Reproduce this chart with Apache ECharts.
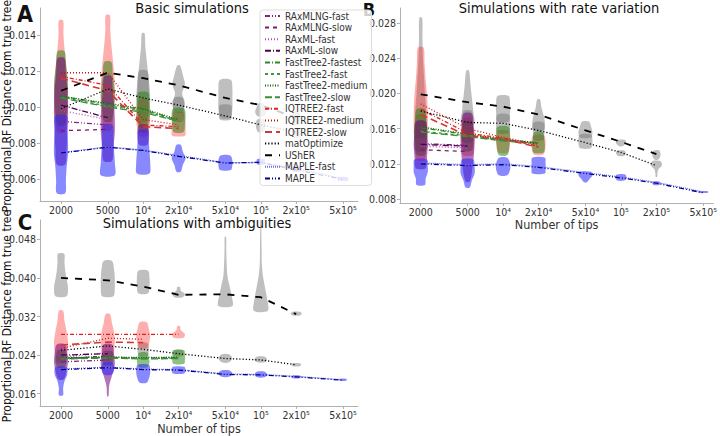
<!DOCTYPE html>
<html><head><meta charset="utf-8">
<script src="https://cdn.jsdelivr.net/npm/echarts@6/dist/echarts.min.js"></script>
<style>html,body{margin:0;padding:0;background:#fff}#c{width:720px;height:436px}</style>
</head><body><div id="c"></div>
<script>
// ---------- data ----------
const tips = [2000, 5000, 10000, 20000, 50000, 100000, 200000, 500000];
const tipLabels = ['2000', '5000', '10⁴', '2x10⁴', '5x10⁴', '10⁵', '2x10⁵', '5x10⁵'];
const methods = ['RAxMLNG-fast','RAxMLNG-slow','RAxML-fast','RAxML-slow','FastTree2-fastest','FastTree2-fast','FastTree2-medium','FastTree2-slow','IQTREE2-fast','IQTREE2-medium','IQTREE2-slow','matOptimize','UShER','MAPLE-fast','MAPLE'];
const panelTitles = ['Basic simulations', 'Simulations with rate variation', 'Simulations with ambiguities'];
const panelLetters = ['A', 'B', 'C'];
const yTicksA = [0.006, 0.008, 0.010, 0.012, 0.014];
const yTicksB = [0.008, 0.012, 0.016, 0.020, 0.024, 0.028];
const yTicksC = [0.016, 0.024, 0.032, 0.040, 0.048];
const yAxisName = 'Proportional RF Distance from true tree';
const xAxisName = 'Number of tips';

// median lines, one row per method (methods order), one value per tip count
const mediansA = [
  [0.0092, 0.0090, null, null, null, null, null, null],
  [0.00868, 0.00875, null, null, null, null, null, null],
  [0.0098, 0.0093, null, null, null, null, null, null],
  [0.0101, 0.0094, null, null, null, null, null, null],
  [0.0106, 0.01015, 0.00985, 0.00925, null, null, null, null],
  [0.01055, 0.01005, 0.0098, 0.0092, null, null, null, null],
  [0.0106, 0.0102, 0.0099, 0.0093, null, null, null, null],
  [0.0105, 0.0100, 0.0097, 0.0092, null, null, null, null],
  [0.0117, 0.0112, 0.0090, 0.0089, null, null, null, null],
  [0.0119, 0.0119, 0.0093, 0.0090, null, null, null, null],
  [0.0116, 0.0109, 0.0089, 0.0088, null, null, null, null],
  [0.0099, 0.0110, 0.0105, 0.0101, 0.0095, 0.0090, 0.0086, null],
  [0.0109, 0.0119, 0.0116, 0.0112, 0.0105, 0.0101, 0.0094, null],
  [0.00745, 0.00778, 0.0076, 0.0073, 0.0069, 0.0069, 0.0066, 0.0060],
  [0.00744, 0.00776, 0.00758, 0.00725, 0.00688, 0.00692, 0.0065, 0.00598]
];
const mediansB = [
  [0.0143, 0.0141, null, null, null, null, null, null],
  [0.0136, 0.0134, null, null, null, null, null, null],
  [0.0140, 0.0138, null, null, null, null, null, null],
  [0.0142, 0.0140, null, null, null, null, null, null],
  [0.0161, 0.0153, 0.0147, 0.0144, null, null, null, null],
  [0.0157, 0.0152, 0.0146, 0.0143, null, null, null, null],
  [0.0162, 0.0154, 0.0148, 0.0144, null, null, null, null],
  [0.0156, 0.0151, 0.0146, 0.0143, null, null, null, null],
  [0.0182, 0.0155, 0.0149, 0.0140, null, null, null, null],
  [0.0188, 0.0160, 0.0150, 0.0142, null, null, null, null],
  [0.0176, 0.0152, 0.0148, 0.0139, null, null, null, null],
  [0.0180, 0.0167, 0.0166, 0.0158, 0.0144, 0.0133, 0.0118, null],
  [0.0199, 0.0190, 0.0185, 0.0176, 0.0158, 0.0145, 0.0131, null],
  [0.0121, 0.0119, 0.0120, 0.0117, 0.0110, 0.0105, 0.0099, 0.0088],
  [0.0120, 0.0118, 0.0119, 0.0116, 0.0109, 0.0104, 0.0098, 0.0087]
];
const mediansC = [
  [0.0226, 0.0230, null, null, null, null, null, null],
  [0.0232, 0.0238, null, null, null, null, null, null],
  [0.0236, 0.0245, null, null, null, null, null, null],
  [0.0240, 0.0243, null, null, null, null, null, null],
  [0.0234, 0.0236, 0.0234, 0.0235, null, null, null, null],
  [0.0233, 0.0235, 0.0233, 0.0234, null, null, null, null],
  [0.0235, 0.0236, 0.0235, 0.0236, null, null, null, null],
  [0.0232, 0.0234, 0.0232, 0.0233, null, null, null, null],
  [0.0283, 0.0283, 0.0283, 0.0283, null, null, null, null],
  [0.0254, 0.0275, 0.0273, null, null, null, null, null],
  [0.0261, 0.0267, 0.0266, null, null, null, null, null],
  [0.0250, 0.0259, 0.0252, 0.0243, 0.0233, 0.0230, 0.0220, null],
  [0.0400, 0.0395, 0.0382, 0.0365, 0.0366, 0.0360, 0.0325, null],
  [0.0211, 0.0215, 0.0211, 0.0210, 0.0201, 0.0200, 0.0196, 0.0189],
  [0.0210, 0.0214, 0.0210, 0.0209, 0.0200, 0.0199, 0.0195, 0.0188]
];

// violins: [group, tip index, min, max, relative density from min to max]
const violinsA = [
  ['usher', 2, 0.0089, 0.0141, [0.5,0.8,1,0.9,0.7,0.5,0.3,0.2]],
  ['usher', 3, 0.0097, 0.0123, [0.5,0.9,0.5,0.9,0.6,0.2]],
  ['usher', 4, 0.0094, 0.0115, [0.7,1,1,1,0.8]],
  ['usher', 5, 0.0095, 0.0102, [0.5,0.8,0.6,0.3]],
  ['usher', 6, 0.0090, 0.0097, [0.4,0.6,0.4]],
  ['matopt', 2, 0.0092, 0.0120, [0.5,0.8,0.8,0.6]],
  ['matopt', 3, 0.0092, 0.0105, [0.6,0.8,0.6]],
  ['matopt', 4, 0.0093, 0.0101, [0.8,0.9,0.8]],
  ['matopt', 5, 0.0086, 0.0093, [0.4,0.7,0.5]],
  ['matopt', 6, 0.0083, 0.0088, [0.4,0.6,0.4]],
  ['iqtree', 0, 0.0086, 0.0148, [0.5,0.8,1,1,0.9,0.7,0.5,0.35,0.3]],
  ['iqtree', 1, 0.0087, 0.0151, [0.5,0.8,1,1,0.9,0.7,0.5,0.35,0.3]],
  ['iqtree', 2, 0.0084, 0.0104, [0.6,0.9,1,0.8,0.6]],
  ['iqtree', 3, 0.0084, 0.0097, [0.9,1,1,0.9,0.8]],
  ['fasttree', 0, 0.0090, 0.0131, [0.5,0.8,0.9,1,0.9,0.7,0.5]],
  ['fasttree', 1, 0.0092, 0.0125, [0.5,0.8,1,0.9,0.7,0.5]],
  ['fasttree', 2, 0.0086, 0.0108, [0.5,0.8,1,0.9,0.7]],
  ['fasttree', 3, 0.0086, 0.0099, [0.7,0.9,1,0.8]],
  ['raxml', 0, 0.0068, 0.0127, [0.6,0.8,0.9,1,1,0.9,0.7,0.5]],
  ['raxml', 1, 0.0070, 0.0117, [0.6,0.8,1,1,0.9,0.7,0.5]],
  ['raxml', 2, 0.0079, 0.0090, [0.6,0.8,0.6]],
  ['maple', 0, 0.0052, 0.0095, [0.6,0.7,0.8,1,1,0.9,0.8]],
  ['maple', 1, 0.0062, 0.0090, [1,1,0.9,0.8,0.7]],
  ['maple', 2, 0.0063, 0.0087, [0.9,1,0.9,0.8,0.7]],
  ['maple', 3, 0.0064, 0.0079, [0.3,0.6,1,0.6,0.3]],
  ['maple', 4, 0.0065, 0.0073, [0.8,1,1,0.7]],
  ['maple', 5, 0.0068, 0.0071, [0.5,0.6,0.5]],
  ['maple', 6, 0.0064, 0.0067, [0.5,0.6,0.5]],
  ['maple', 7, 0.0059, 0.0061, [0.7,0.8,0.6]]
];
const violinsB = [
  ['usher', 0, 0.0135, 0.0286, [0.8,0.9,0.8,0.6,0.45,0.3,0.25,0.2]],
  ['usher', 1, 0.0165, 0.0226, [0.9,0.8,0.6,0.4,0.2]],
  ['usher', 2, 0.0168, 0.0197, [0.8,1,1,0.8]],
  ['usher', 3, 0.0158, 0.0193, [0.8,0.9,0.7,0.4,0.2]],
  ['usher', 4, 0.0150, 0.0168, [0.8,1,0.8,0.5]],
  ['usher', 5, 0.0140, 0.0147, [0.2,0.7,0.6]],
  ['usher', 6, 0.0125, 0.0135, [0.3,0.6,0.4]],
  ['matopt', 0, 0.0150, 0.0175, [0.6,0.7,0.6]],
  ['matopt', 1, 0.0145, 0.0180, [0.7,0.8,0.7,0.6]],
  ['matopt', 2, 0.0155, 0.0176, [0.8,1,0.8]],
  ['matopt', 3, 0.0147, 0.0167, [0.7,0.8,0.7]],
  ['matopt', 4, 0.0138, 0.0153, [0.8,1,0.8]],
  ['matopt', 5, 0.0129, 0.0135, [0.4,0.7,0.5]],
  ['matopt', 6, 0.0105, 0.0123, [0.1,0.15,0.3,0.8,0.6]],
  ['iqtree', 0, 0.0125, 0.0252, [0.6,0.8,1,1,0.9,0.7,0.55,0.4]],
  ['iqtree', 1, 0.0130, 0.0172, [0.7,0.9,1,0.8,0.5]],
  ['iqtree', 2, 0.0133, 0.0157, [0.7,1,0.8]],
  ['iqtree', 3, 0.0131, 0.0152, [0.7,1,0.8]],
  ['fasttree', 0, 0.0130, 0.0182, [0.6,0.8,1,0.8,0.6]],
  ['fasttree', 1, 0.0135, 0.0168, [0.6,0.8,0.8,0.6]],
  ['fasttree', 2, 0.0130, 0.0162, [0.6,0.9,1,0.8]],
  ['fasttree', 3, 0.0133, 0.0156, [0.7,0.9,0.8,0.6]],
  ['raxml', 0, 0.0115, 0.0168, [0.7,0.9,1,0.9,0.7]],
  ['raxml', 1, 0.0100, 0.0177, [0.3,0.7,0.9,1,0.9,0.6]],
  ['maple', 0, 0.0096, 0.0125, [0.6,0.7,1,1,0.9]],
  ['maple', 1, 0.0093, 0.0125, [0.3,0.6,1,1,0.8]],
  ['maple', 2, 0.0107, 0.0127, [0.6,1,1,0.6]],
  ['maple', 3, 0.0109, 0.0127, [0.9,1,1,0.9]],
  ['maple', 4, 0.0099, 0.0111, [0.2,0.6,1,0.8]],
  ['maple', 5, 0.0101, 0.0108, [0.5,0.8,0.6]],
  ['maple', 6, 0.0096, 0.0100, [0.4,0.6,0.4]],
  ['maple', 7, 0.0087, 0.0089, [0.6,0.7,0.5]]
];
const violinsC = [
  ['usher', 0, 0.0362, 0.0450, [0.8,1,0.8,0.6,0.5,0.45]],
  ['usher', 1, 0.0362, 0.0435, [0.8,1,1,0.9,0.6]],
  ['usher', 2, 0.0368, 0.0415, [0.7,0.9,0.9,0.7]],
  ['usher', 3, 0.0360, 0.0381, [0.6,0.9,0.3,0.2]],
  ['usher', 4, 0.0342, 0.0485, [1,0.9,0.6,0.3,0.2,0.15,0.12,0.1]],
  ['usher', 5, 0.0332, 0.0525, [1,0.9,0.6,0.3,0.15,0.12,0.1,0.08,0.08]],
  ['usher', 6, 0.0322, 0.0330, [0.5,0.8,0.5]],
  ['matopt', 2, 0.0238, 0.0265, [0.6,0.8,0.6]],
  ['matopt', 3, 0.0238, 0.0250, [0.6,0.7,0.6]],
  ['matopt', 4, 0.0225, 0.0242, [0.5,1,0.5]],
  ['matopt', 5, 0.0225, 0.0237, [0.5,0.9,0.5]],
  ['matopt', 6, 0.0217, 0.0223, [0.5,0.7,0.5]],
  ['iqtree', 0, 0.0225, 0.0332, [0.6,0.9,1,0.8,0.5,0.3]],
  ['iqtree', 1, 0.0230, 0.0325, [0.6,0.9,1,0.9,0.6,0.3]],
  ['iqtree', 2, 0.0255, 0.0308, [0.6,0.9,1,0.8,0.5]],
  ['iqtree', 3, 0.0276, 0.0300, [0.7,0.9,0.3,0.2]],
  ['fasttree', 0, 0.0215, 0.0250, [0.5,0.8,0.7,0.5]],
  ['fasttree', 1, 0.0220, 0.0248, [0.6,0.8,0.6]],
  ['fasttree', 2, 0.0215, 0.0245, [0.6,0.9,0.8,0.6]],
  ['fasttree', 3, 0.0222, 0.0250, [0.8,0.9,0.9,0.8]],
  ['raxml', 0, 0.0190, 0.0262, [0.4,0.8,1,0.9,0.6]],
  ['raxml', 1, 0.0155, 0.0262, [0.1,0.2,0.6,1,0.9,0.6]],
  ['maple', 0, 0.0157, 0.0215, [0.3,0.3,0.5,0.9,0.8]],
  ['maple', 1, 0.0200, 0.0225, [0.6,0.9,0.6]],
  ['maple', 2, 0.0183, 0.0220, [0.5,0.9,1,0.8]],
  ['maple', 3, 0.0202, 0.0216, [0.8,1,0.8]],
  ['maple', 4, 0.0195, 0.0208, [0.5,1,0.6]],
  ['maple', 5, 0.0194, 0.0206, [0.5,0.9,0.5]],
  ['maple', 6, 0.0192, 0.0198, [0.5,0.7,0.5]],
  ['maple', 7, 0.0187, 0.0191, [0.4,0.6,0.4]]
];

// ---------- styles ----------
const FONT = "'Liberation Sans Narrow', 'DejaVu Sans Condensed', Roboto, sans-serif";
const lineColors = ['#8a1f8a','#7a1a6a','#b04fb0','#4a004a','#2e8b22','#3a9a3a','#156615','#3c8c3c','#e02020','#cc1010','#d03838','#000000','#000000','#7070e8','#00008b'];
const lineDashes = [[5,2,1,2,1,2],[4,4],[1,2],[6,2,1,2],[5,2,1,2],[3,3],[1,1.5],[7,3],[4,2,1,2],[1,2],[7,4],[1.2,2],[7,7],[1,1],[5,2,1,2,1,2]];
const lineWidths = [1.3,1.3,1.3,1.3,1.3,1.3,1.3,1.3,1.3,1.3,1.6,1.3,1.8,1.3,1.3];
const groupFill = {
  usher: 'rgba(128,128,128,0.5)', matopt: 'rgba(110,110,110,0.45)',
  iqtree: 'rgba(255,30,30,0.36)', fasttree: 'rgba(30,130,10,0.5)',
  raxml: 'rgba(115,0,125,0.55)', maple: 'rgba(40,40,255,0.55)'
};
const VW = 7; // max half width of a violin, px
const grids = [
  {left: 40, top: 8, width: 318, height: 193},
  {left: 400, top: 8, width: 317, height: 195},
  {left: 40, top: 220, width: 318, height: 192}
];
const xRanges = [[3.1224, 5.8266], [3.125, 5.783], [3.1224, 5.8266]];
const yRanges = [[0.00477, 0.0155], [0.00755, 0.0297], [0.01346, 0.052]];
const yTicks = [yTicksA, yTicksB, yTicksC];
const medians = [mediansA, mediansB, mediansC];
const violins = [violinsA, violinsB, violinsC];
const lx = t => Math.log10(t);

function violinRenderer(list) {
  return function (params, api) {
    const v = list[params.dataIndex];
    const xv = lx(tips[v[1]]);
    const dens = v[4], n = dens.length;
    const cx = api.coord([xv, v[2]])[0];
    const right = [], left = [];
    for (let i = 0; i < n; i++) {
      const val = v[2] + (v[3] - v[2]) * i / (n - 1);
      const py = api.coord([xv, val])[1];
      const hw = dens[i] * VW;
      right.push([cx + hw, py]);
      left.unshift([cx - hw, py]);
    }
    return {
      type: 'polygon',
      shape: {points: right.concat(left), smooth: 0.3},
      style: {fill: groupFill[v[0]], stroke: null},
      silent: true
    };
  };
}

const xAxes = [], yAxes = [], series = [];
for (let p = 0; p < 3; p++) {
  xAxes.push({
    type: 'value', gridIndex: p, min: xRanges[p][0], max: xRanges[p][1],
    splitLine: {show: false},
    axisLine: {show: true, lineStyle: {color: '#b0b0b0', width: 1}},
    axisTick: {show: true, customValues: tips.map(lx), length: 3, lineStyle: {color: '#b0b0b0'}},
    axisLabel: {
      customValues: tips.map(lx), fontSize: 10.5, color: '#333', margin: 3, fontFamily: FONT,
      formatter: function (v) {
        const i = tips.findIndex(t => Math.abs(lx(t) - v) < 1e-6);
        return i >= 0 ? tipLabels[i] : '';
      }
    },
    name: p === 0 ? '' : xAxisName, nameLocation: 'middle', nameGap: p === 1 ? 13 : 16,
    nameTextStyle: {fontSize: 12.5, color: '#333', fontFamily: FONT}
  });
  yAxes.push({
    type: 'value', gridIndex: p, min: yRanges[p][0], max: yRanges[p][1],
    splitLine: {show: false},
    axisLine: {show: true, lineStyle: {color: '#b0b0b0', width: 1}},
    axisTick: {show: true, customValues: yTicks[p], length: 3, lineStyle: {color: '#b0b0b0'}},
    axisLabel: {customValues: yTicks[p], fontSize: 10.5, color: '#333', margin: 4, fontFamily: FONT,
      formatter: v => v.toFixed(3)}
  });
  const vl = violins[p];
  series.push({
    type: 'custom', name: 'violins' + p, xAxisIndex: p, yAxisIndex: p, z: 1,
    renderItem: violinRenderer(vl),
    data: vl.map(v => [lx(tips[v[1]]), v[2], v[3]]),
    encode: {x: 0, y: [1, 2]}, clip: true, silent: true
  });
  medians[p].forEach((row, m) => {
    const pts = [];
    row.forEach((val, i) => { if (val !== null) pts.push([lx(tips[i]), val]); });
    series.push({
      type: 'line', name: methods[m], xAxisIndex: p, yAxisIndex: p, z: 3,
      data: pts, symbol: 'none', silent: true, animation: false,
      lineStyle: {color: lineColors[m], width: lineWidths[m], type: lineDashes[m]},
      itemStyle: {color: lineColors[m]}
    });
  });
}

const textBase = {fill: '#111', fontFamily: FONT};
const graphics = [
  {type: 'text', x: 192, y: 8, style: Object.assign({text: panelTitles[0], fontSize: 14.5, align: 'center', verticalAlign: 'middle'}, textBase)},
  {type: 'text', x: 559, y: 8, style: Object.assign({text: panelTitles[1], fontSize: 14.5, align: 'center', verticalAlign: 'middle'}, textBase)},
  {type: 'text', x: 197, y: 223, style: Object.assign({text: panelTitles[2], fontSize: 14.5, align: 'center', verticalAlign: 'middle'}, textBase)},
  {type: 'text', x: 25, y: 2, style: Object.assign({text: panelLetters[0], fontSize: 23, fontWeight: 'bold', align: 'center', verticalAlign: 'top'}, textBase)},
  {type: 'text', x: 369, y: 0, style: Object.assign({text: panelLetters[1], fontSize: 18, fontWeight: 'bold', align: 'center', verticalAlign: 'top'}, textBase)},
  {type: 'text', x: 25, y: 211, style: Object.assign({text: panelLetters[2], fontSize: 22, fontWeight: 'bold', align: 'center', verticalAlign: 'top'}, textBase)},
  {type: 'text', x: 7, y: 106, rotation: Math.PI / 2, style: Object.assign({text: yAxisName, fontSize: 12, align: 'center', verticalAlign: 'middle'}, textBase)},
  {type: 'text', x: 7, y: 316, rotation: Math.PI / 2, style: Object.assign({text: yAxisName, fontSize: 12, align: 'center', verticalAlign: 'middle'}, textBase)}
];

const chart = echarts.init(document.getElementById('c'), null, {renderer: 'svg'});
chart.setOption({
  animation: false,
  backgroundColor: '#fff',
  grid: grids,
  xAxis: xAxes,
  yAxis: yAxes,
  legend: {
    data: methods, left: 260, top: 10, orient: 'vertical',
    itemWidth: 15, itemHeight: 10, itemGap: 1.6, padding: [1, 4, 2, 4],
    backgroundColor: 'rgba(255,255,255,0.8)', borderColor: '#ddd', borderWidth: 1, borderRadius: 3,
    textStyle: {fontSize: 10, color: '#333', lineHeight: 10, fontFamily: FONT},
    itemStyle: {opacity: 0},
    selectedMode: false, z: 10
  },
  graphic: graphics,
  series: series
});
</script>
</body></html>
